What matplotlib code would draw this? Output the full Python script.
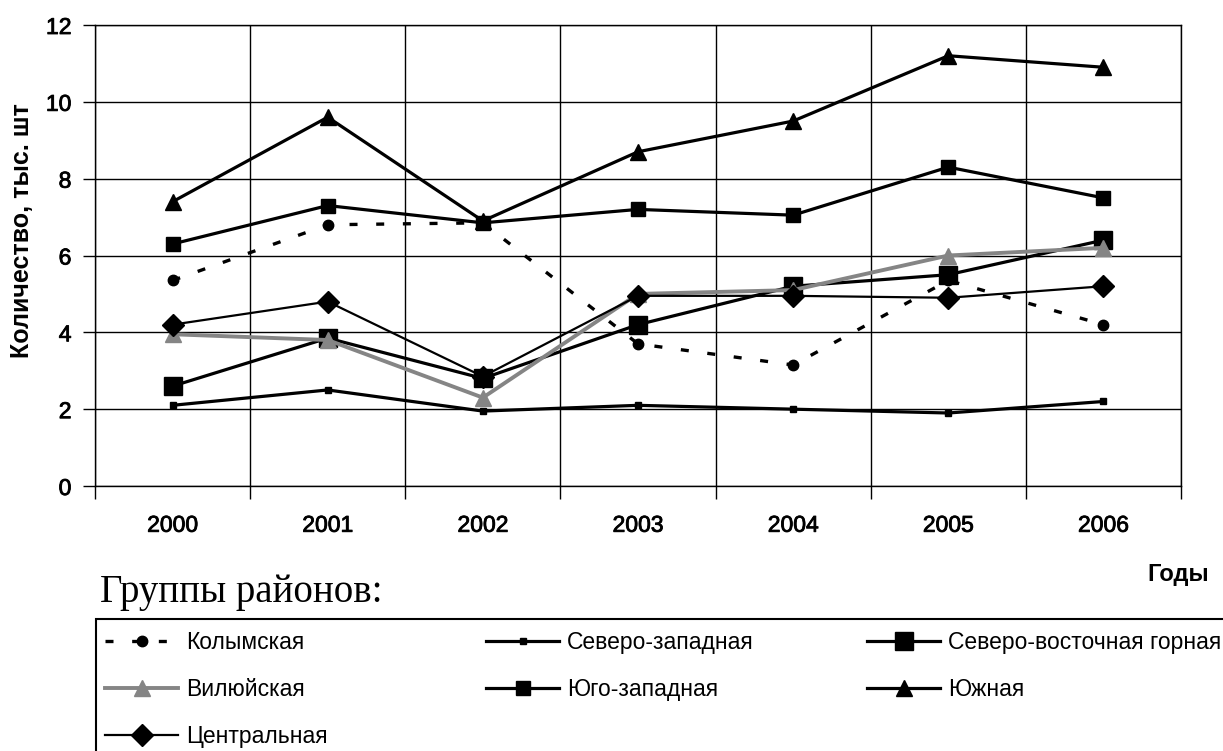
import matplotlib
matplotlib.use("Agg")
import matplotlib.pyplot as plt
import matplotlib.patheffects as pe
from matplotlib.patches import Rectangle
from matplotlib.ticker import FixedLocator, NullFormatter

plt.rcParams["font.family"] = ["Liberation Sans", "DejaVu Sans"]

years = ["2000", "2001", "2002", "2003", "2004", "2005", "2006"]

kolyma = [5.35, 6.8, 6.85, 3.7, 3.15, 5.35, 4.2]
north_west = [2.1, 2.5, 1.95, 2.1, 2.0, 1.9, 2.2]
north_east_mountain = [2.6, 3.85, 2.8, 4.2, 5.2, 5.5, 6.4]
vilyuy = [3.95, 3.8, 2.3, 5.0, 5.1, 6.0, 6.2]
south_west = [6.3, 7.3, 6.85, 7.2, 7.05, 8.3, 7.5]
south = [7.4, 9.6, 6.9, 8.7, 9.5, 11.2, 10.9]
central = [4.2, 4.8, 2.85, 4.95, 4.95, 4.9, 5.2]

series_names = ["Колымская", "Северо-западная", "Северо-восточная горная",
                "Вилюйская", "Юго-западная", "Южная", "Центральная"]

W, H = 1223, 751
fig = plt.figure(figsize=(W / 100, H / 100), dpi=100)
ax = fig.add_axes([95 / W, 1 - 486 / H, (1181 - 95) / W, (486 - 25) / H])

x = list(range(len(years)))

styles = {
    "Колымская": dict(data=kolyma, color="black", lw=2.4, ls=(0, (2.4, 5.6)),
                      marker="o", ms=7.5),
    "Северо-западная": dict(data=north_west, color="black", lw=2.3, ls="-",
                            marker="s", ms=4.5),
    "Северо-восточная горная": dict(data=north_east_mountain, color="black", lw=2.3,
                                    ls="-", marker="s", ms=12.5),
    "Вилюйская": dict(data=vilyuy, color="#858585", lw=2.8, ls="-",
                      marker="^", ms=11.5),
    "Юго-западная": dict(data=south_west, color="black", lw=2.3, ls="-",
                         marker="s", ms=9.5),
    "Южная": dict(data=south, color="black", lw=2.3, ls="-", marker="^", ms=12),
    "Центральная": dict(data=central, color="black", lw=1.6, ls="-",
                        marker="D", ms=11),
}

handles = {}
for name in series_names:
    st = styles[name]
    (h,) = ax.plot(x, st["data"], color=st["color"], lw=st["lw"], ls=st["ls"],
                   marker=st["marker"], ms=st["ms"], mfc=st["color"],
                   mec=st["color"], label=name, clip_on=False)
    handles[name] = h

ax.set_xlim(-0.5, len(years) - 0.5)
ax.set_ylim(0, 12)
ax.set_yticks(range(0, 13, 2))
ax.set_xticks(x)
ax.set_xticklabels(years)
ax.xaxis.set_minor_locator(FixedLocator([i - 0.5 for i in range(len(years) + 1)]))
ax.xaxis.set_minor_formatter(NullFormatter())

ax.grid(False)
ax.grid(True, axis="y", which="major", color="black", lw=1.0)
ax.grid(True, axis="x", which="minor", color="black", lw=1.0)
ax.set_axisbelow(True)

for sp in ax.spines.values():
    sp.set_color("black")
    sp.set_linewidth(1.0)

ax.tick_params(axis="x", which="major", length=0, pad=20, labelsize=16.5)
ax.tick_params(axis="x", which="minor", length=9, width=1.0, direction="out")
ax.tick_params(axis="y", which="major", length=9, width=1.0, direction="out",
               pad=8, labelsize=16.5)
semi_bold = [pe.withStroke(linewidth=0.6, foreground="black")]
for lbl in ax.get_xticklabels() + ax.get_yticklabels():
    lbl.set_path_effects(semi_bold)

fig.text(22 / W, 1 - 231 / H, "Количество, тыс. шт", rotation=90,
         ha="center", va="center", fontsize=18, fontweight="bold")
fig.text(1178 / W, 1 - 574 / H, "Годы", ha="center", va="center",
         fontsize=17, fontweight="bold")
fig.text(100 / W, 1 - 602 / H, "Группы районов:", ha="left", va="baseline",
         fontsize=28, family="Liberation Serif")

# legend frame (runs off the right and bottom edges)
fig.patches.append(Rectangle((96 / W, -0.2), 2.0, (751 - 619) / H + 0.2,
                             transform=fig.transFigure, fill=False,
                             edgecolor="black", lw=1.5))

columns = [
    (105, ["Колымская", "Вилюйская", "Центральная"]),
    (486, ["Северо-западная", "Юго-западная"]),
    (867, ["Северо-восточная горная", "Южная"]),
]
leg_fs = 16.5
fs_px = leg_fs * 100 / 72
for x0, names in columns:
    leg = fig.legend([handles[n] for n in names], names,
                     loc="upper left", bbox_to_anchor=(x0 / W, 1 - 631 / H),
                     frameon=False, fontsize=leg_fs, numpoints=1,
                     handlelength=73 / fs_px, handletextpad=8 / fs_px,
                     borderpad=0, borderaxespad=0, labelspacing=1.04)

fig.savefig("out.png", dpi=100)
